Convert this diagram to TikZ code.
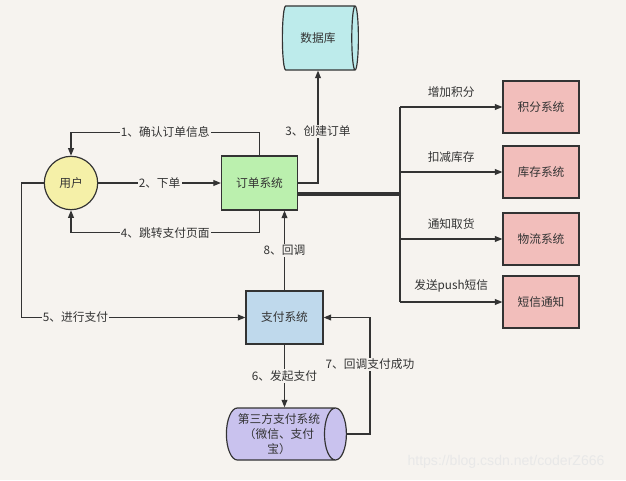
\documentclass[tikz,border=0pt]{standalone}
\usepackage{fontspec}
\setmainfont{Noto Sans CJK SC}
\newfontfamily\wmfont{Liberation Sans}
\usetikzlibrary{shapes.geometric, arrows.meta, calc}
\definecolor{bgc}{HTML}{F6F3EF}
\definecolor{linec}{HTML}{333333}
\definecolor{dbfill}{HTML}{BDEBEB}
\definecolor{userfill}{HTML}{F5F0A8}
\definecolor{orderfill}{HTML}{BBF0AE}
\definecolor{subfill}{HTML}{F2BEBB}
\definecolor{payfill}{HTML}{BFD9EC}
\definecolor{thirdfill}{HTML}{C9C2EE}

\begin{document}
\begin{tikzpicture}[x=0.03cm, y=-0.03cm,
  sysbox/.style={rectangle, draw=linec, line width=1pt, minimum width=2.28cm, minimum height=1.6cm, align=center, font=\fontsize{10}{12}\selectfont, text=linec},
  usr/.style={circle, draw=linec, line width=1pt, fill=userfill, minimum size=1.6cm, font=\fontsize{10}{12}\selectfont, text=linec},
  cyl/.style={cylinder, draw=linec, line width=1pt, shape border rotate=0, aspect=0.5, inner sep=1pt, align=center, font=\fontsize{10}{12}\selectfont, text=linec},
  fl/.style={-{Triangle[length=6.5pt,width=5pt]}, draw=linec, line width=1pt},
  thk/.style={draw=linec, line width=2.6pt},
  lbl/.style={fill=bgc, inner sep=1pt, font=\fontsize{10}{12}\selectfont, text=linec},
  tag/.style={inner sep=1pt, font=\fontsize{10}{12}\selectfont, text=linec}
]
  % background and page size
  \fill[bgc] (0,0) rectangle (626,480);
  \useasboundingbox (0,0) rectangle (626,480);

  % main nodes
  \node[cyl, fill=dbfill, minimum height=2.28cm, minimum width=1.92cm] (db) at (318,38) {数据库};
  \node[usr] (user) at (71,183) {用户};
  \node[sysbox, fill=orderfill, minimum height=1.62cm] (order) at (259.5,183) {订单系统};
  \node[sysbox, fill=payfill, minimum width=2.31cm, minimum height=1.59cm] (pay) at (284.5,317.5) {支付系统};
  \node[cyl, fill=thirdfill, minimum height=3.6cm, minimum width=1.56cm, font=\fontsize{10}{13}\selectfont] (third) at (279,434) {第三方支付系统\\（微信、支付\\宝）};

  % subsystems on the right
  \node[sysbox, fill=subfill, minimum height=1.56cm] (jf) at (541,107) {积分系统};
  \node[sysbox, fill=subfill, minimum height=1.56cm] (kc) at (541,172) {库存系统};
  \node[sysbox, fill=subfill, minimum height=1.56cm] (wl) at (541,239) {物流系统};
  \node[sysbox, fill=subfill, minimum height=1.56cm] (dx) at (541,302) {短信通知};

  % user <-> order
  \draw[fl] (order.north) -- ++(0,-23) -| node[lbl, pos=0.25]{1、确认订单信息} (user.north);
  \draw[fl] (user) -- node[lbl]{2、下单} (order);
  \draw[fl] (order.south) -- ++(0,22) -| node[lbl, pos=0.25]{4、跳转支付页面} (user.south);
  \draw[fl] (order.east) -| node[lbl, pos=0.73]{3、创建订单} (db);

  % fan-out to subsystems
  \coordinate (hub) at (400,194);
  \draw[thk] ($(order.east)+(0,11)$) -- (hub);
  \draw[draw=linec, line width=1pt] (hub |- jf.west) -- (hub |- dx.west);
  \draw[fl] (hub |- jf.west) -- node[tag, above=7pt]{增加积分} (jf.west);
  \draw[fl] (hub |- kc.west) -- node[tag, above=7pt]{扣减库存} (kc.west);
  \draw[fl] (hub |- wl.west) -- node[tag, above=7pt]{通知取货} (wl.west);
  \draw[fl] (hub |- dx.west) -- node[tag, above=7pt]{发送push短信} (dx.west);

  % payment flow
  \draw[fl] (user.west) -- ++(-22,0) |- node[lbl, pos=0.62]{5、进行支付} (pay.west);
  \draw[fl] (pay.south) -- node[lbl]{6、发起支付} (pay.south |- third.north);
  \draw[fl] (third.east) -- ++(23,0) |- node[lbl, pos=0.3]{7、回调支付成功} (pay.east);
  \draw[fl] (pay.north) -- node[lbl]{8、回调} (pay.north |- order.south);

  % watermark
  \node[text=white!82!gray, font=\wmfont\fontsize{12}{14}\selectfont] (wm) at (506,462) {https://blog.csdn.net/coderZ666};
\end{tikzpicture}
\end{document}
